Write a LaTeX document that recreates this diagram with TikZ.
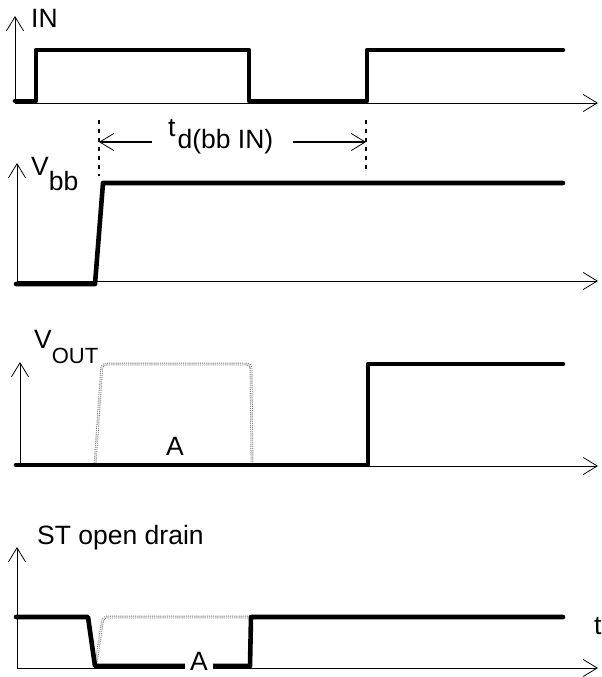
\documentclass[tikz,border=0pt]{standalone}
\usepackage{fontspec}
\setmainfont{Liberation Sans}
\usetikzlibrary{arrows.meta}
\newcommand{\lowsub}[3]{#1\raisebox{-#3}{#2}}

\begin{document}
\begin{tikzpicture}[x=1pt, y=-1pt,
        axis/.style={line width=0.8pt, -{Straight Barb[length=14pt, width=17pt, line width=0.8pt]}},
        signal/.style={line width=4.6pt, line cap=round, line join=round},
        ghost/.style={draw=gray!90!black, line width=0.9pt, double=white, double distance=1pt, densely dotted, rounded corners=4pt},
        delayline/.style={line width=2pt, dash pattern=on 4pt off 5pt},
        lbl/.style={font=\fontsize{26.5}{30}\selectfont, inner sep=0pt, anchor=base west}]
        \useasboundingbox (0,0) rectangle (602,677);
        \def\xe{598}
        % Axes
        \coordinate (O1) at (15,103);  \coordinate (Y1) at (15,16);
        \coordinate (O2) at (17,281);  \coordinate (Y2) at (17,163);
        \coordinate (O3) at (20,466);  \coordinate (Y3) at (20,362);
        \coordinate (O4) at (17,668);  \coordinate (Y4) at (17,547);
        \foreach \p in {1,2,3,4} {
            \draw[axis] (O\p) -- (\xe, 0 |- O\p);
            \draw[axis] (O\p) -- (Y\p);
        }
        % Labels
        \node[lbl] (IN) at (31,28) {IN};
        \node[lbl] (VBB) at (31,175) {\lowsub{V}{bb}{15pt}};
        \node[lbl] (VOUT) at (34,348) {\lowsub{V}{\fontsize{22}{25}\selectfont OUT}{15pt}};
        \node[lbl] (ST) at (37,544) {ST open drain};
        \node[lbl] (T) at (594,634) {t};
        % Delay marker
        \coordinate (DL) at (99,142);
        \coordinate (DR) at (366,142);
        \draw[delayline] (99,120) -- (99,176);
        \draw[delayline] (366,120) -- (366,174);
        \node[lbl] (TD) at (168,136) {t\kern2pt\raisebox{-12pt}{d(bb IN)}};
        \draw[axis, line width=1.3pt] (152,142) -- (DL);
        \draw[axis, line width=1.3pt] (293,142) -- (DR);
        % IN
        \draw[signal] (15,101) -- (36,101) -- (36,50) -- (249,50) -- (249,101)
            -- (367,101) -- (367,50) -- (563,50);
        % Vbb
        \draw[signal] (16,284) -- (95,284) -- (103,183) -- (563,183);
        % VOUT
        \draw[ghost] (95,465) -- (102,364) -- (251,364) -- (252,465);
        \draw[signal] (16,465) -- (368,465) -- (368,364) -- (563,364);
        \node[lbl] (A1) at (166,455) {A};
        % ST
        \draw[ghost] (96,664) -- (103,617) -- (250,617);
        \draw[signal] (16,617) -- (88,617) -- (95,666) -- (250,666) -- (251,617) -- (563,617);
        \node[lbl, fill=white, inner xsep=5pt, inner ysep=1pt] (A2) at (185,670) {A};
    \end{tikzpicture}
\end{document}
